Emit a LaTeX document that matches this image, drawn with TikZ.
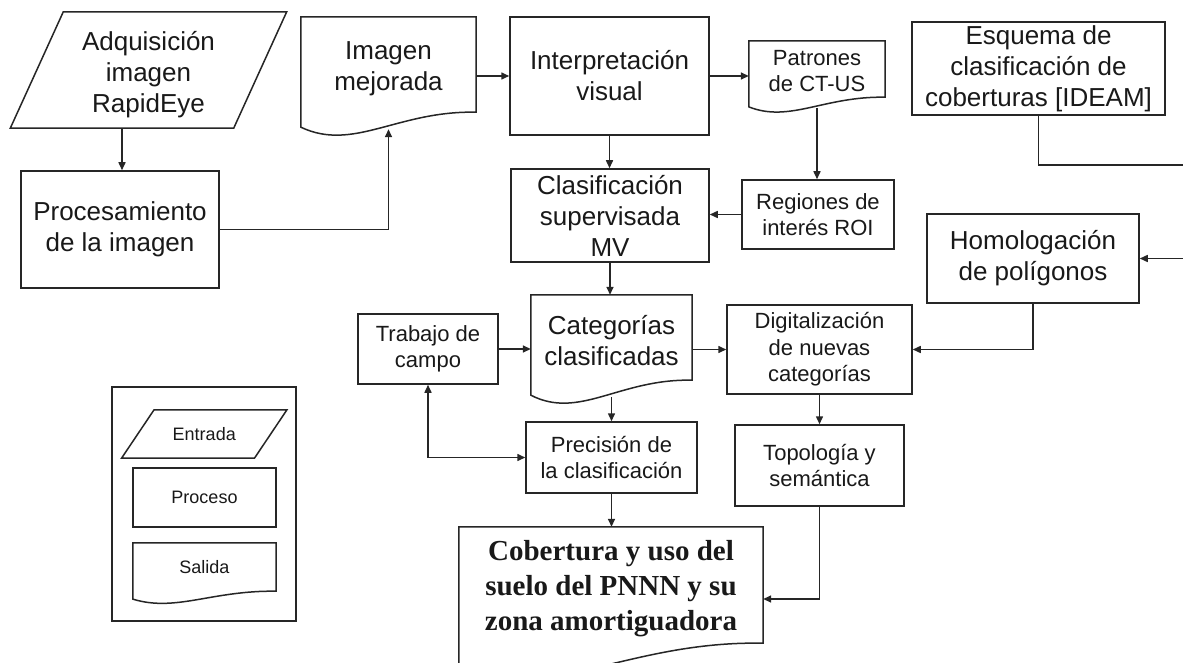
\documentclass[tikz,border=0pt]{standalone}
\usepackage{fontspec}
\setmainfont{Liberation Sans}
\newfontfamily\tnr{Liberation Serif}
\usetikzlibrary{arrows.meta,calc}
\tikzset{
  shp/.style={line width=1.5pt, draw=black!85, line join=miter},
  base/.style={rectangle, inner sep=0pt, align=center, text=black!90},
  sz/.style 2 args={minimum width=#1pt, minimum height=#2pt},
  bigtext/.style={base, font=\fontsize{26}{31}\selectfont},
  smalltext/.style={base, font=\fontsize{22}{26.5}\selectfont},
  legtext/.style={base, font=\fontsize{18}{22}\selectfont},
  bigbox/.style={bigtext, draw=black!85, line width=1.5pt},
  smallbox/.style={smalltext, draw=black!85, line width=1.5pt},
  legbox/.style={legtext, draw=black!85, line width=1.5pt},
  arr/.style={line width=1.5pt, draw=black!85, -{Triangle[length=8pt,width=7pt]}},
  arrboth/.style={line width=1.5pt, draw=black!85, {Triangle[length=8pt,width=7pt]}-{Triangle[length=8pt,width=7pt]}}
}
% document shape: #1 node, #2 wave amplitude, #3 upward shift of outline vs. text node
\newcommand\docwave[3]{%
  \draw[shp] ($(#1.north west)+(0pt,#3pt)$) -- ($(#1.north east)+(0pt,#3pt)$) -- ($(#1.south east)+(0pt,#3pt)$)
    .. controls ($(#1.south west)!0.55!(#1.south east)+(0pt,{0.1*#2pt+#3pt})$)
    and ($(#1.south west)!0.3!(#1.south east)+(0pt,{-2.35*#2pt+#3pt})$)
    .. ($(#1.south west)+(0pt,{-0.88*#2pt+#3pt})$) -- cycle;
  \coordinate (#1-b) at ($(#1.south)+(0pt,{-#2pt+#3pt})$);
  \coordinate (#1-t) at ($(#1.north)+(0pt,#3pt)$);}
% parallelogram: #1 node, #2 half slant, #3 upward shift
\newcommand\paral[3]{%
  \draw[shp] ($(#1.north west)+(#2pt,#3pt)$) -- ($(#1.north east)+(#2pt,#3pt)$)
    -- ($(#1.south east)+(-#2pt,#3pt)$) -- ($(#1.south west)+(-#2pt,#3pt)$) -- cycle;
  \coordinate (#1-b) at ($(#1.south)+(-#2pt,#3pt)$);}
\begin{document}
\begin{tikzpicture}[x=1pt,y=-1pt]
\fill[white] (0,0) rectangle (1183,663);
\useasboundingbox (0,0) rectangle (1183,663);

\node[bigtext, sz={223}{116}] (adq) at (148.5,75) {Adquisición\\imagen\\RapidEye};
\paral{adq}{26.5}{5}
\node[bigbox, sz={198}{117}] (proc) at (120,229.5) {Procesamiento\\de la imagen};
\node[bigtext, sz={175}{95}] (img) at (388.5,68.5) {Imagen\\mejorada};
\docwave{img}{17}{4}
\node[bigbox, sz={199}{118}] (interp) at (609.5,76) {Interpretación\\visual};
\node[bigbox, sz={198}{93}] (clas) at (610,215.5) {Clasificación\\supervisada\\MV};
\node[smalltext, sz={136}{56}] (patr) at (817,71) {Patrones\\de CT-US};
\docwave{patr}{11}{2}
\node[smallbox, sz={152}{69}] (roi) at (818,214.5) {Regiones de\\interés ROI};
\node[bigbox, sz={253}{93}] (esq) at (1038.5,68.5) {Esquema de\\clasificación de\\coberturas [IDEAM]};
\node[bigbox, sz={212}{89}] (homo) at (1033,258.5) {Homologación\\de polígonos};
\node[bigtext, sz={161}{85}] (cat) at (611.5,340.5) {Categorías\\clasificadas};
\docwave{cat}{17}{3}
\node[smallbox, sz={140}{70}] (trab) at (428,349) {Trabajo de\\campo};
\node[smallbox, sz={185}{89}] (dig) at (819.5,349.5) {Digitalización\\de nuevas\\categorías};
\node[smallbox, sz={171}{71}] (prec) at (611.5,457.5) {Precisión de\\la clasificación};
\node[smallbox, sz={169}{81}] (topo) at (819.5,465.5) {Topología y\\semántica};
\node[base, sz={304}{116}, font=\tnr\bfseries\fontsize{29}{35}\selectfont] (cob) at (611,589) {Cobertura y uso del\\suelo del PNNN y su\\zona amortiguadora};
\docwave{cob}{26}{4}

% legend
\node[base, draw=black!85, line width=1.5pt, sz={184}{234}] (leg) at (204,504) {};
\node[legtext, sz={132.5}{48}] (ent) at (204.25,434) {Entrada};
\paral{ent}{16.25}{0}
\node[legbox, sz={143}{59}] (pro) at (204.5,497.5) {Proceso};
\node[legtext, sz={143}{48}] (sal) at (204.5,567) {Salida};
\docwave{sal}{9}{0}

% connectors
\draw[arr] (adq-b) -- (adq-b |- proc.north);
\draw[arr] (proc.east) -| (img-b);
\draw[arr] (img.east |- interp.west) -- (interp.west);
\draw[arr] (interp.east) -- (interp.east -| patr.west);
\draw[arr] (interp.south) -- (interp.south |- clas.north);
\draw[arr] (patr-b) -- (patr-b |- roi.north);
\draw[arr] (roi.west) -- (roi.west -| clas.east);
\draw[arr] (clas.south) -- (clas.south |- cat-t);
\coordinate (r1) at (1200,165);
\draw[arr] (esq.south) |- (r1) -- (r1 |- homo.east) -- (homo.east);
\draw[arr] (homo.south) |- (dig.east);
\draw[arr] (trab.east) -- (trab.east -| cat.west);
\draw[arr] (cat.east |- dig.west) -- (dig.west);
\draw[arr] (cat-b) -- (cat-b |- prec.north);
\draw[arrboth] (trab.south) |- (prec.west);
\draw[arr] (dig.south) -- (dig.south |- topo.north);
\draw[arr] (prec.south) -- (prec.south |- cob-t);
\draw[arr] (topo.south) |- ($(cob.east)+(0pt,-10pt)$);
\end{tikzpicture}
\end{document}
